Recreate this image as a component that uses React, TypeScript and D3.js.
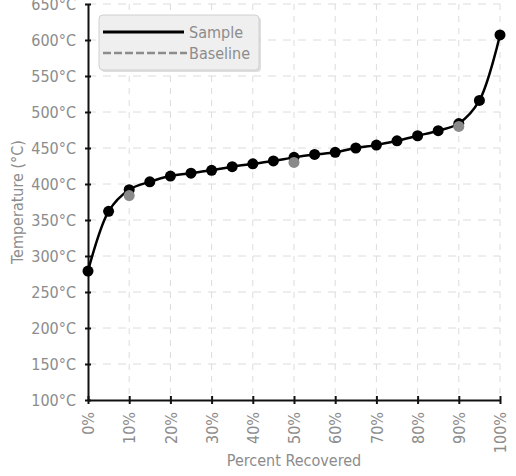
import React, { useEffect, useRef } from "react"
import * as d3 from "d3"

// percent recovered (x) and temperatures
const recovered = [0, 5, 10, 15, 20, 25, 30, 35, 40, 45, 50, 55, 60, 65, 70, 75, 80, 85, 90, 95, 100]
const sampleTemps = [279, 362, 392, 403, 411, 415, 419, 424, 428, 432, 437, 441, 444, 450, 454, 460, 467, 474, 484, 516, 607]
const baselineRecovered = [10, 50, 90]
const baselineTemps = [384, 430, 480]
const tempTicks = [100, 150, 200, 250, 300, 350, 400, 450, 500, 550, 600, 650]
const pctTicks = [0, 10, 20, 30, 40, 50, 60, 70, 80, 90, 100]
const legendItems = ["Sample", "Baseline"]

const FONT = "'DejaVu Sans Condensed', 'DejaVu Sans', sans-serif"
const GREY = "#8c8c8c"
const FS = 16

function App() {
  const svgRef = useRef<SVGSVGElement>(null)

  useEffect(() => {
    const svg = d3.select(svgRef.current)
    svg.selectAll("*").remove()

    const W = 516
    const H = 476
    const M = { left: 88, right: 16, top: 4, bottom: 76 }

    const x = d3.scaleLinear().domain([0, 100]).range([M.left, W - M.right])
    const y = d3.scaleLinear().domain([100, 650]).range([H - M.bottom, M.top])

    // dashed grid
    const grid = svg.append("g")
    grid.selectAll(".vg")
      .data(pctTicks.slice(1))
      .enter().append("line")
        .attr("x1", d => x(d)).attr("x2", d => x(d))
        .attr("y1", y(650)).attr("y2", y(100))
        .attr("stroke", "#dcdcdc").attr("stroke-dasharray", "6,6")
    grid.selectAll(".hg")
      .data(tempTicks.slice(1))
      .enter().append("line")
        .attr("x1", x(0)).attr("x2", x(100))
        .attr("y1", d => y(d)).attr("y2", d => y(d))
        .attr("stroke", "#dcdcdc").attr("stroke-dasharray", "8,7")

    // axes
    const yAxis = svg.append("g")
      .attr("transform", `translate(${x(0)},0)`)
      .call(d3.axisLeft(y).tickValues(tempTicks).tickFormat(d => `${d}°C`).tickSizeInner(3).tickSizeOuter(0).tickPadding(9))
    yAxis.select(".domain").attr("stroke", "#111").attr("stroke-width", 2)
    yAxis.selectAll(".tick line").attr("x2", 3).attr("x1", -3).attr("stroke", "#111").attr("stroke-width", 2)
    yAxis.selectAll("text").attr("fill", GREY).attr("font-size", FS).attr("font-family", FONT)

    const xAxis = svg.append("g")
      .attr("transform", `translate(0,${y(100)})`)
      .call(d3.axisBottom(x).tickValues(pctTicks).tickFormat(d => `${d}%`).tickSizeInner(4).tickSizeOuter(0))
    xAxis.select(".domain").attr("stroke", "#111").attr("stroke-width", 2)
    xAxis.selectAll(".tick line").attr("y1", -4).attr("y2", 4).attr("stroke", "#111").attr("stroke-width", 2)
    xAxis.selectAll("text")
      .attr("fill", GREY).attr("font-size", FS).attr("font-family", FONT)
      .attr("text-anchor", "end")
      .attr("transform", "rotate(-90)")
      .attr("x", -12).attr("y", 0).attr("dy", "0.35em")

    // axis titles
    svg.append("text")
      .attr("x", (x(0) + x(100)) / 2).attr("y", 466)
      .attr("text-anchor", "middle")
      .attr("fill", GREY).attr("font-size", FS).attr("font-family", FONT)
      .text("Percent Recovered")
    svg.append("text")
      .attr("transform", `translate(23,${(y(100) + y(650)) / 2}) rotate(-90)`)
      .attr("text-anchor", "middle")
      .attr("fill", GREY).attr("font-size", FS).attr("font-family", FONT)
      .text("Temperature (°C)")

    // sample line + points
    const sample = recovered.map((r, i) => [r, sampleTemps[i]] as [number, number])
    const line = d3.line<[number, number]>()
      .x(d => x(d[0])).y(d => y(d[1]))
      .curve(d3.curveCatmullRom.alpha(0.5))
    svg.append("path")
      .attr("d", line(sample))
      .attr("fill", "none").attr("stroke", "#000").attr("stroke-width", 2.5)
    svg.selectAll(".pt")
      .data(sample)
      .enter().append("circle")
        .attr("cx", d => x(d[0])).attr("cy", d => y(d[1]))
        .attr("r", 5.5).attr("fill", "#000")

    // baseline points
    svg.selectAll(".bpt")
      .data(baselineRecovered.map((r, i) => [r, baselineTemps[i]]))
      .enter().append("circle")
        .attr("cx", d => x(d[0])).attr("cy", d => y(d[1]))
        .attr("r", 5.5).attr("fill", "#8a8a8a")

    // legend
    const lg = svg.append("g")
    lg.append("rect")
      .attr("x", 101).attr("y", 17).attr("width", 160).attr("height", 55).attr("rx", 4)
      .attr("fill", "#c8c8c8").attr("opacity", 0.6)
    lg.append("rect")
      .attr("x", 99).attr("y", 15).attr("width", 160).attr("height", 55).attr("rx", 4)
      .attr("fill", "#efefef").attr("stroke", "#d0d0d0")
    legendItems.forEach((name, i) => {
      const ly = 32 + i * 21
      lg.append("line")
        .attr("x1", 103).attr("x2", i === 0 ? 184 : 187).attr("y1", ly).attr("y2", ly)
        .attr("stroke", i === 0 ? "#000" : GREY).attr("stroke-width", i === 0 ? 3 : 2.5)
        .attr("stroke-dasharray", i === 0 ? null : "8,3")
      lg.append("text")
        .attr("x", 189).attr("y", ly).attr("dy", "0.35em")
        .attr("fill", GREY).attr("font-size", FS).attr("font-family", FONT)
        .text(name)
    })
  }, [])

  return (
    <svg ref={svgRef} width={516} height={476}
      style={{ position: "absolute", left: 0, top: 0, background: "#fff" }}></svg>
  )
}

export default App
